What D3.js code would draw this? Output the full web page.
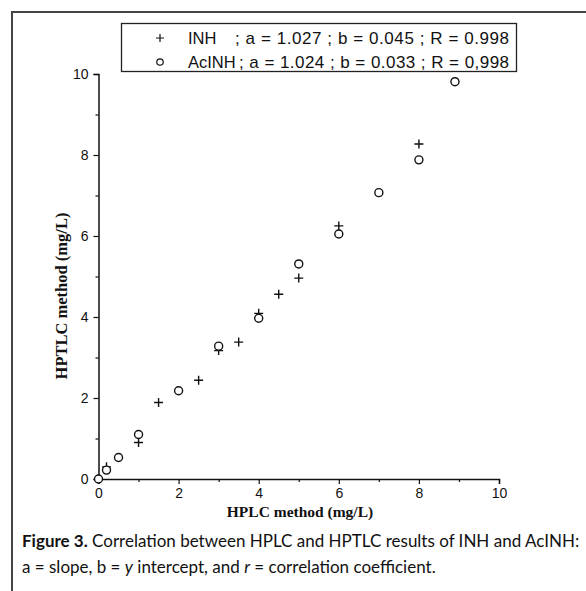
<!DOCTYPE html>
<html><head><meta charset="utf-8">
<script src="https://cdn.jsdelivr.net/npm/d3@7"></script>
<style>body{margin:0;background:#fff}svg{display:block}</style>
</head><body>
<script>
const inhX = [0, 0.2, 1, 1.5, 2.5, 3, 3.5, 4, 4.5, 5, 6, 8];
const inhY = [0, 0.30, 0.90, 1.89, 2.44, 3.17, 3.38, 4.09, 4.56, 4.96, 6.25, 8.27];
const acX = [0, 0.2, 0.5, 1, 2, 3, 4, 5, 6, 7, 8, 8.9];
const acY = [0, 0.22, 0.53, 1.10, 2.18, 3.28, 3.97, 5.31, 6.05, 7.07, 7.88, 9.81];
const majorTicks = [0, 2, 4, 6, 8, 10];
const minorTicks = [1, 3, 5, 7, 9];
const legendLines = [
  {sym: "+", name: "INH", rest: "; a = 1.027 ; b = 0.045 ; R = 0.998"},
  {sym: "o", name: "AcINH", rest: "; a = 1.024 ; b = 0.033 ; R = 0,998"}
];
const xTitle = "HPLC method (mg/L)";
const yTitle = "HPTLC method (mg/L)";

const W = 586, H = 591;
const svg = d3.select("body").append("svg").attr("width", W).attr("height", H);

// outer frame
svg.append("path").attr("d", "M12,600 L12,12 L600,12")
  .attr("fill", "none").attr("stroke", "#444").attr("stroke-width", 2);

const x = d3.scaleLinear().domain([0, 10]).range([98.5, 499]);
const y = d3.scaleLinear().domain([0, 10]).range([479, 74]);

const g = svg.append("g");
const xAxis = d3.axisBottom(x).tickValues(majorTicks).tickSize(5).tickPadding(4).tickFormat(d3.format("d"));
const xMinor = d3.axisBottom(x).tickValues(minorTicks).tickSize(3).tickFormat("");
const yAxis = d3.axisLeft(y).tickValues(majorTicks).tickSize(5).tickPadding(5).tickFormat(d3.format("d"));
const yMinor = d3.axisLeft(y).tickValues(minorTicks).tickSize(3).tickFormat("");

function style(sel){
  sel.select(".domain").attr("stroke", "#111").attr("stroke-width", 1.5);
  sel.selectAll(".tick line").attr("stroke", "#111").attr("stroke-width", 1.2);
  sel.selectAll(".tick text").attr("font-family", "Liberation Sans, Arial, sans-serif").attr("font-size", 14).attr("fill", "#111");
}
g.append("g").attr("transform", `translate(0,${y(0)})`).call(xAxis).call(style);
g.append("g").attr("transform", `translate(0,${y(0)})`).call(xMinor).call(style).select(".domain").remove();
g.append("g").attr("transform", `translate(${x(0)},0)`).call(yAxis).call(style);
g.append("g").attr("transform", `translate(${x(0)},0)`).call(yMinor).call(style).select(".domain").remove();

// titles
svg.append("text").attr("x", 300).attr("y", 517).attr("text-anchor", "middle")
  .attr("font-family", "Liberation Serif, Times New Roman, serif").attr("font-weight", "bold")
  .attr("font-size", 15.5).attr("fill", "#111").text(xTitle);
svg.append("text").attr("transform", "translate(67,296) rotate(-90)").attr("text-anchor", "middle")
  .attr("font-family", "Liberation Serif, Times New Roman, serif").attr("font-weight", "bold")
  .attr("font-size", 16.5).attr("fill", "#111").text(yTitle);

// data
const inh = inhX.map((v, i) => [v, inhY[i]]);
const ac = acX.map((v, i) => [v, acY[i]]);
svg.append("g").selectAll("path").data(inh).join("path")
  .attr("d", d => `M${x(d[0]) - 4.5},${y(d[1])}H${x(d[0]) + 4.5}M${x(d[0])},${y(d[1]) - 4.5}V${y(d[1]) + 4.5}`)
  .attr("stroke", "#111").attr("stroke-width", 1.4).attr("fill", "none");
svg.append("g").selectAll("circle").data(ac).join("circle")
  .attr("cx", d => x(d[0])).attr("cy", d => y(d[1])).attr("r", 4)
  .attr("fill", "#fff").attr("stroke", "#111").attr("stroke-width", 1.4);

// legend
svg.append("rect").attr("x", 121.5).attr("y", 23.5).attr("width", 395).attr("height", 48)
  .attr("fill", "#fff").attr("stroke", "#222").attr("stroke-width", 1.3);
const lg = svg.append("g").attr("font-family", "Liberation Sans, Arial, sans-serif").attr("font-size", 16.5).attr("fill", "#111");
legendLines.forEach((l, i) => {
  const cy = 38 + i * 24;
  if (l.sym === "+") {
    lg.append("path").attr("d", `M${156},${cy}H${164}M160,${cy - 4}V${cy + 4}`).attr("stroke", "#111").attr("stroke-width", 1.2);
  } else {
    lg.append("circle").attr("cx", 160).attr("cy", cy).attr("r", 3.2).attr("fill", "none").attr("stroke", "#111").attr("stroke-width", 1.2);
  }
  lg.append("text").attr("x", 188).attr("y", cy + 6).text(l.name);
  lg.append("text").attr("x", i === 0 ? 235 : 239).attr("y", cy + 6).attr("font-size", 17)
    .attr("textLength", i === 0 ? 274 : 270).attr("lengthAdjust", "spacing").text(l.rest);
});

// caption
const cap = svg.append("g").attr("font-family", "Lato, Open Sans, sans-serif").attr("font-size", 17).attr("fill", "#111");
const t1 = cap.append("text").attr("x", 22).attr("y", 547);
t1.append("tspan").attr("font-weight", "bold").text("Figure 3.");
t1.append("tspan").text(" Correlation between HPLC and HPTLC results of INH and AcINH:");
const t2 = cap.append("text").attr("x", 22).attr("y", 573);
t2.append("tspan").text("a = slope, b = ");
t2.append("tspan").attr("font-style", "italic").text("y");
t2.append("tspan").text(" intercept, and ");
t2.append("tspan").attr("font-style", "italic").text("r");
t2.append("tspan").text(" = correlation coefficient.");
</script>
</body></html>
